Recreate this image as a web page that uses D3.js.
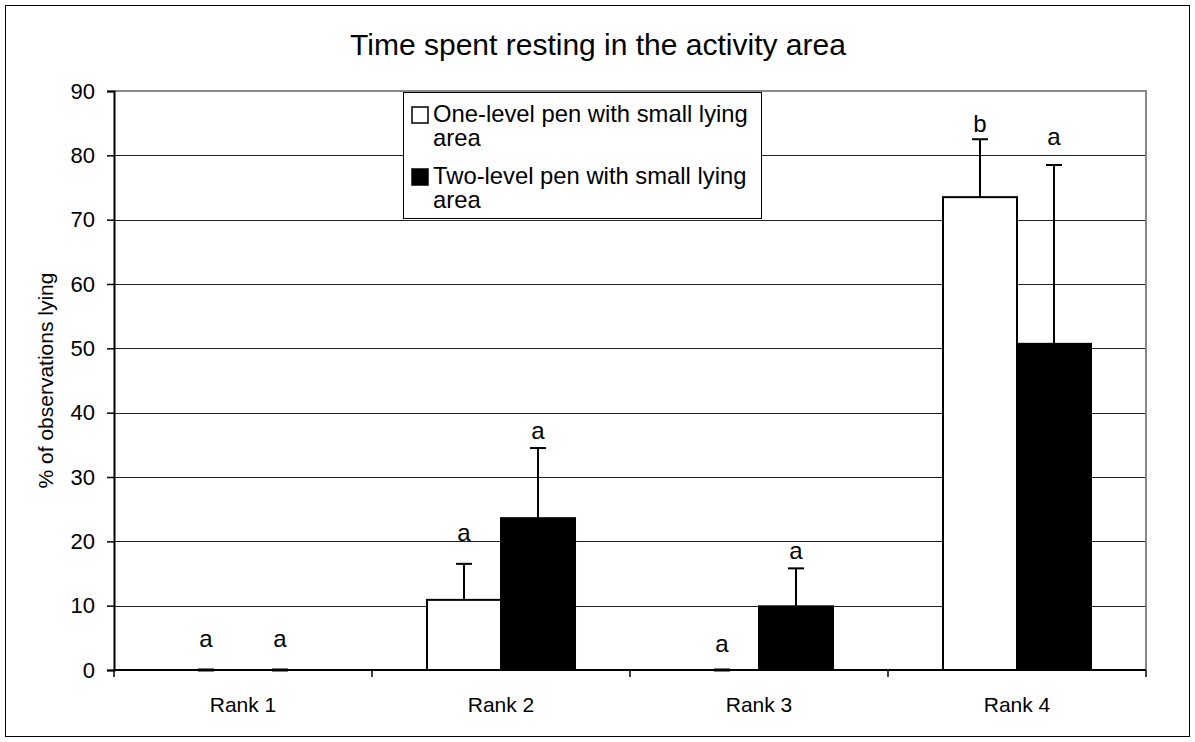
<!DOCTYPE html>
<html>
<head>
<meta charset="utf-8">
<script src="https://cdn.jsdelivr.net/npm/d3@7"></script>
<style>
  body { margin: 0; background: #fff; }
  svg text { font-family: "Liberation Sans", Arial, sans-serif; fill: #000; }
</style>
</head>
<body>
<div class="chart"></div>
<script>
let categories = ["Rank 1", "Rank 2", "Rank 3", "Rank 4"];
let series = ["One-level pen with small lying area", "Two-level pen with small lying area"];
let oneLevel = [0, 10.9, 0, 73.5];
let twoLevel = [0, 23.6, 9.9, 50.7];
let oneLevelErr = [0, 5.6, 0, 9.0];
let twoLevelErr = [0, 10.9, 5.9, 27.8];
let oneLevelLetters = ["a", "a", "a", "b"];
let twoLevelLetters = ["a", "a", "a", "a"];
// height (in % units) where each letter's baseline sits
let oneLevelLetterAt = [3.6, 20.1, 2.8, 83.7];
let twoLevelLetterAt = [3.6, 35.9, 17.2, 81.6];
let yTicks = [0, 10, 20, 30, 40, 50, 60, 70, 80, 90];

let W = 1195, H = 742;
let margin = { top: 91, right: 49, bottom: 72, left: 114 };
let width = W - margin.left - margin.right;
let height = H - margin.top - margin.bottom;

let svg = d3.select(".chart")
    .append("svg")
        .attr("width", W)
        .attr("height", H);

// outer frame
svg.append("rect")
    .attr("x", 5.5).attr("y", 5.5)
    .attr("width", W - 11).attr("height", H - 11)
    .attr("fill", "none").attr("stroke", "#000").attr("stroke-width", 1);

svg.append("text")
    .attr("x", 598).attr("y", 55)
    .attr("text-anchor", "middle")
    .style("font-size", "30px")
    .text("Time spent resting in the activity area");

let g = svg.append("g")
    .attr("transform", `translate(${margin.left}, ${margin.top})`);

let yScale = d3.scaleLinear().domain([0, 90]).range([height, 0]);
let xScale = d3.scaleBand().domain(categories).range([0, width]);
let xSub = d3.scaleBand().domain([0, 1]).range([0, xScale.bandwidth()]).paddingOuter(0.743);

// gridlines
g.selectAll(".grid")
    .data(yTicks.filter(d => d > 0 && d < 90))
    .enter()
    .append("line")
    .attr("x1", 0).attr("x2", width)
    .attr("y1", d => Math.round(yScale(d)) + 0.5)
    .attr("y2", d => Math.round(yScale(d)) + 0.5)
    .attr("stroke", "#222").attr("stroke-width", 1);

// plot area border top/right (gray)
g.append("path")
    .attr("d", `M0,${yScale(90)}H${width}V${height}`)
    .attr("fill", "none").attr("stroke", "#888").attr("stroke-width", 2);

let rows = categories.map((c, i) => [
    { cat: c, s: 0, v: oneLevel[i], e: oneLevelErr[i], l: oneLevelLetters[i], la: oneLevelLetterAt[i] },
    { cat: c, s: 1, v: twoLevel[i], e: twoLevelErr[i], l: twoLevelLetters[i], la: twoLevelLetterAt[i] }
]).flat();

let bx = d => xScale(d.cat) + xSub(d.s);
let cx = d => bx(d) + xSub.bandwidth() / 2;

g.selectAll(".bar")
    .data(rows.filter(d => d.v > 0))
    .enter()
    .append("rect")
    .attr("x", d => bx(d))
    .attr("y", d => yScale(d.v))
    .attr("width", xSub.bandwidth())
    .attr("height", d => height - yScale(d.v))
    .attr("fill", d => d.s === 0 ? "#fff" : "#000")
    .attr("stroke", "#000").attr("stroke-width", 2);

g.selectAll(".letter")
    .data(rows)
    .enter()
    .append("text")
    .attr("x", cx)
    .attr("y", d => yScale(d.la))
    .attr("text-anchor", "middle")
    .style("font-size", "24px")
    .text(d => d.l);

// y axis
let yAxis = d3.axisLeft(yScale).tickValues(yTicks).tickSize(7).tickPadding(12);
let ya = g.append("g").call(yAxis);
ya.select(".domain").attr("stroke-width", 2);
ya.selectAll(".tick line").attr("stroke-width", 1.5);
ya.selectAll("text").style("font-size", "22px");

// x axis
let xa = g.append("g").attr("transform", `translate(0, ${height})`);
xa.append("line")
    .attr("x1", 0).attr("x2", width)
    .attr("stroke", "#000").attr("stroke-width", 2);
xa.selectAll(".xtick")
    .data(categories.concat(["end"]))
    .enter()
    .append("line")
    .attr("x1", (d, i) => i * xScale.step())
    .attr("x2", (d, i) => i * xScale.step())
    .attr("y1", 0).attr("y2", 7)
    .attr("stroke", "#000").attr("stroke-width", 1.5);
xa.selectAll(".xlabel")
    .data(categories)
    .enter()
    .append("text")
    .attr("x", d => xScale(d) + xScale.bandwidth() / 2)
    .attr("y", 42)
    .attr("text-anchor", "middle")
    .style("font-size", "21px")
    .text(d => d);

// error bars (upper only), drawn over the axis so zero caps show
g.selectAll(".err")
    .data(rows)
    .enter()
    .append("line")
    .attr("x1", cx).attr("x2", cx)
    .attr("y1", d => yScale(d.v))
    .attr("y2", d => yScale(d.v + d.e))
    .attr("stroke", "#000").attr("stroke-width", 2);

g.selectAll(".cap")
    .data(rows)
    .enter()
    .append("line")
    .attr("x1", d => cx(d) - 8).attr("x2", d => cx(d) + 8)
    .attr("y1", d => yScale(d.v + d.e))
    .attr("y2", d => yScale(d.v + d.e))
    .attr("stroke", "#000").attr("stroke-width", d => d.e === 0 ? 3 : 2);

svg.append("text")
    .attr("transform", `translate(53, ${margin.top + height / 2}) rotate(-90)`)
    .attr("text-anchor", "middle")
    .style("font-size", "21px")
    .text("% of observations lying");

// legend
let lg = svg.append("g").attr("transform", "translate(403, 92)");
lg.append("rect")
    .attr("x", 0.5).attr("y", 0.5)
    .attr("width", 358).attr("height", 126)
    .attr("fill", "#fff").attr("stroke", "#000").attr("stroke-width", 1);

let legendLines = [["One-level pen with small lying", "area"], ["Two-level pen with small lying", "area"]];
legendLines.forEach((lines, i) => {
    let top = i * 62;
    lg.append("rect")
        .attr("x", 9).attr("y", top + 15)
        .attr("width", 16).attr("height", 16)
        .attr("fill", i === 0 ? "#fff" : "#000")
        .attr("stroke", "#000").attr("stroke-width", 1.5);
    lines.forEach((t, j) => {
        lg.append("text")
            .attr("x", 30)
            .attr("y", top + 30 + j * 24)
            .style("font-size", "23.8px")
            .text(t);
    });
});
</script>
</body>
</html>
